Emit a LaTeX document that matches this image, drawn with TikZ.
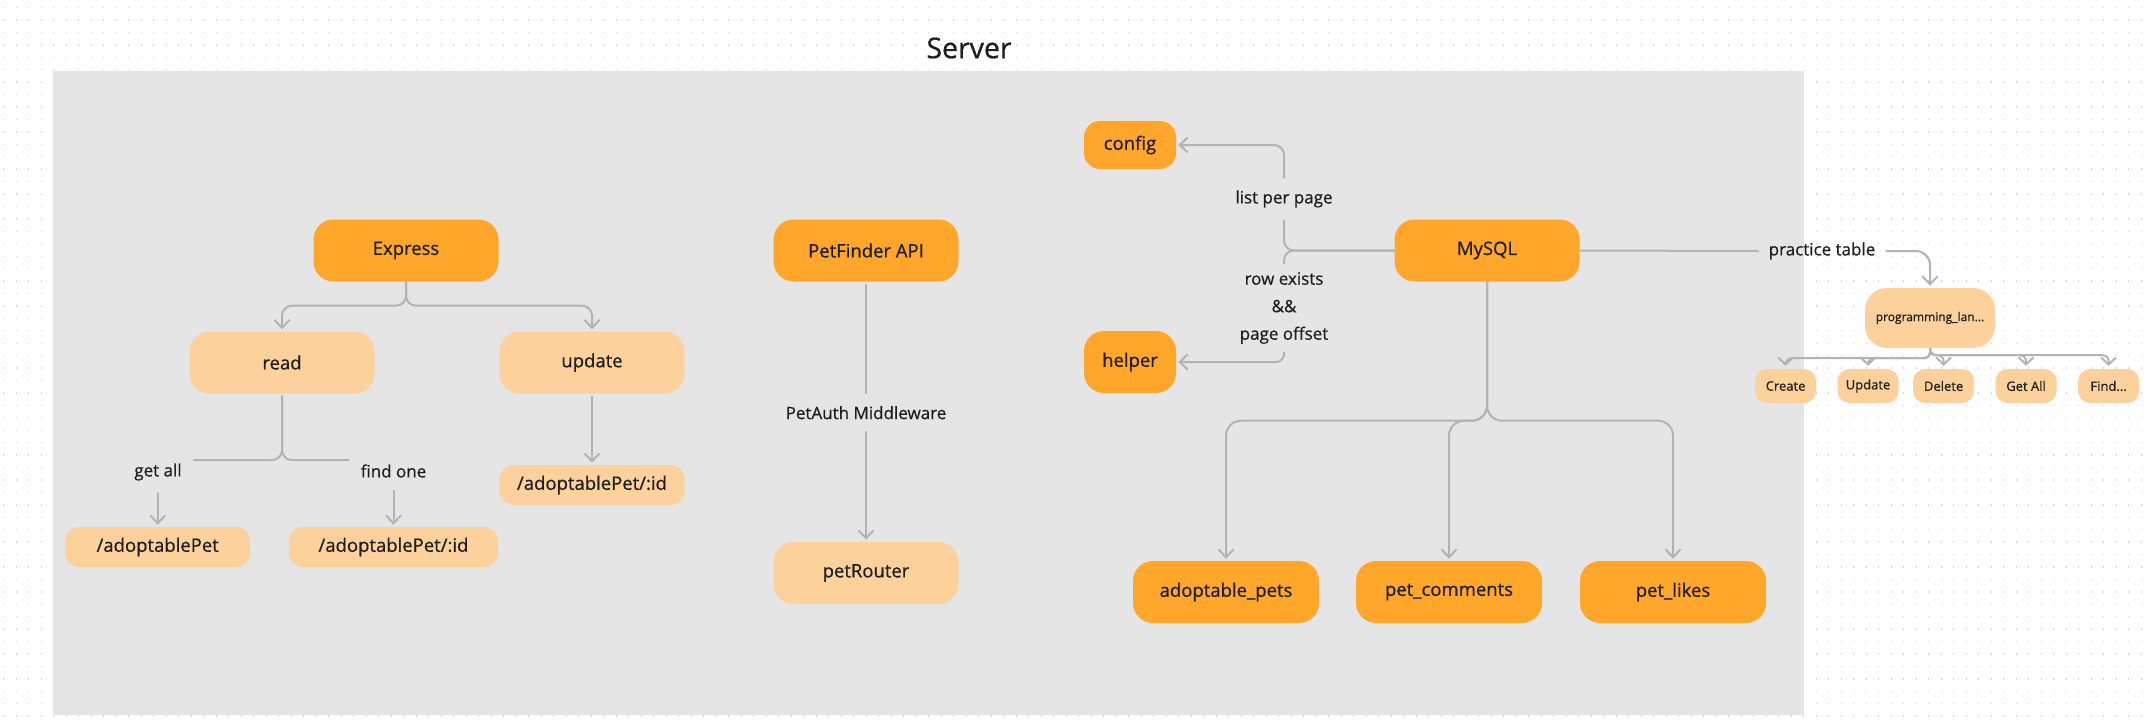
\documentclass[tikz,border=0pt]{standalone}
\usepackage{fontspec}
\setmainfont{Open Sans}[UprightFeatures={FakeBold=0.6}]
\usetikzlibrary{arrows.meta}
\definecolor{dkor}{HTML}{FFA62B}
\definecolor{ltor}{HTML}{FCD19C}
\definecolor{panelc}{HTML}{E5E5E5}
\definecolor{wirec}{HTML}{B3B3B3}
\definecolor{txtc}{HTML}{1E1E1E}
\definecolor{dotc}{HTML}{D2D2D2}
\begin{document}
\begin{tikzpicture}[x=1pt,y=-1pt,
  box/.style={rounded corners=20pt, minimum width=185pt, minimum height=62pt, text=txtc, font=\fontsize{18.5}{22}\selectfont, inner sep=0pt},
  dk/.style={box, fill=dkor},
  lt/.style={box, fill=ltor},
  routebox/.style={lt, minimum height=40pt, rounded corners=14pt},
  mini/.style={fill=ltor, rounded corners=12pt, minimum width=61pt, minimum height=34pt, text=txtc, font=\fontsize{13}{15}\selectfont, inner sep=0pt},
  lbl/.style={text=txtc, font=\fontsize{17}{27.5}\selectfont, inner xsep=10pt, inner ysep=12pt, align=center},
  wire/.style={draw=wirec, line width=2pt},
  arr/.style={wire, shorten >=2pt, -{Straight Barb[length=8pt,width=15pt]}},
  miniarr/.style={wire, shorten >=3pt, -{Straight Barb[length=7pt,width=15pt]}},
]
\useasboundingbox (0,0) rectangle (2147,726);
\fill[white] (0,0) rectangle (2147,726);
% dotted background
\foreach \r in {0,...,58}{
  \draw[dotc, line width=1.4pt, dash pattern=on 1.4pt off 11.1pt] (3,{7.6+12.43*\r}) -- (2147,{7.6+12.43*\r});
}
% panel
\fill[panelc] (52.6,70.7) rectangle (1803.6,715);
\node[font=\fontsize{28.5}{32}\selectfont, text=txtc] (server) at (969,48) {Server};

% left column
\node[dk] (express) at (406,250.5) {Express};
\node[lt] (read) at (282,362.5) {read};
\node[lt] (update) at (592,362.5) {update};
\node[routebox] (rall) at (157.7,547) {/adoptablePet};
\node[routebox, minimum width=209pt] (rone) at (393.5,547) {/adoptablePet/:id};
\node[routebox] (rupd) at (592,485) {/adoptablePet/:id};
\node[lbl] (getall) at (158,472) {get all};
\node[lbl] (findone) at (393.5,471) {find one};
\coordinate (gaend) at (193,460);
\coordinate (foend) at (349,460);

\draw[arr, rounded corners=10pt] (express.south) -- ++(0,24) -| (read.north);
\draw[arr, rounded corners=10pt] (express.south) -- ++(0,24) -| (update.north);
\draw[wire, rounded corners=10pt, shorten <=2pt] (read.south) |- (gaend);
\draw[wire, rounded corners=10pt, shorten <=2pt] (read.south) |- (foend);
\draw[arr] (getall.south) -- (rall.north);
\draw[arr] (findone.south) -- (rone.north);
\draw[arr, shorten <=2pt] (update.south) -- (rupd.north);

% petfinder column
\node[dk] (petfinder) at (866,250.5) {PetFinder API};
\node[lt] (petrouter) at (866,573) {petRouter};
\node[lbl] (petauth) at (866,412.7) {PetAuth Middleware};
\draw[wire, shorten <=2pt] (petfinder.south) -- (petauth.north);
\draw[arr] (petauth.south) -- (petrouter.north);

% mysql
\node[dk] (mysql) at (1487,250.5) {MySQL};
\node[dk, minimum width=92pt, minimum height=48pt, rounded corners=16pt] (config) at (1130,145) {config};
\node[dk, minimum width=92pt] (helper) at (1130,362) {helper};
\node[lbl] (lpp) at (1284,199) {list per page};
\node[lbl, inner ysep=8pt] (rowx) at (1284,308) {row exists\\\&\&\\page offset};
\draw[wire, rounded corners=10pt] (mysql.west) -| (lpp.south);
\draw[arr, rounded corners=10pt] (lpp.north) |- (config.east);
\draw[wire, rounded corners=10pt] (mysql.west) -| (rowx.north);
\draw[arr, rounded corners=8pt] (rowx.south) |- (helper.east);

\node[dk, minimum width=186pt] (adopt) at (1226,592) {adoptable\_pets};
\node[dk, minimum width=186pt] (comments) at (1449,592) {pet\_comments};
\node[dk, minimum width=186pt] (likes) at (1673,592) {pet\_likes};
\draw[arr, rounded corners=15pt] (mysql.south) -- ++(0,139) -| (adopt.north);
\draw[arr, rounded corners=15pt] (mysql.south) -- ++(0,139) -| (comments.north);
\draw[arr, rounded corners=15pt] (mysql.south) -- ++(0,139) -| (likes.north);

% practice table
\node[lbl] (ptable) at (1822,251) {practice table};
\node[mini, minimum width=130pt, minimum height=60pt, rounded corners=22pt, font=\fontsize{12}{14}\selectfont] (prog) at (1930,318) {programming\_lan...};
\draw[wire] (mysql.east) -- (ptable.west);
\draw[arr, rounded corners=14pt] (ptable.east) -| (prog.north);

\node[mini] (create) at (1785.6,386) {Create};
\node[mini] (mupdate) at (1868,386) {Update};
\node[mini] (mdelete) at (1943.6,386) {Delete};
\node[mini] (getallm) at (2026,386) {Get All};
\node[mini] (findm) at (2108.6,386) {Find...};
\draw[miniarr, rounded corners=6pt] (prog.south) -- ++(0,10) -| (create.north);
\draw[miniarr, rounded corners=6pt] (prog.south) -- ++(0,10) -| (mupdate.north);
\draw[miniarr, rounded corners=6pt] (prog.south) -- ++(0,7) -| (mdelete.north);
\draw[miniarr, rounded corners=6pt] (prog.south) -- ++(0,7) -| (getallm.north);
\draw[miniarr, rounded corners=6pt] (prog.south) -- ++(0,7) -| (findm.north);
\end{tikzpicture}
\end{document}
